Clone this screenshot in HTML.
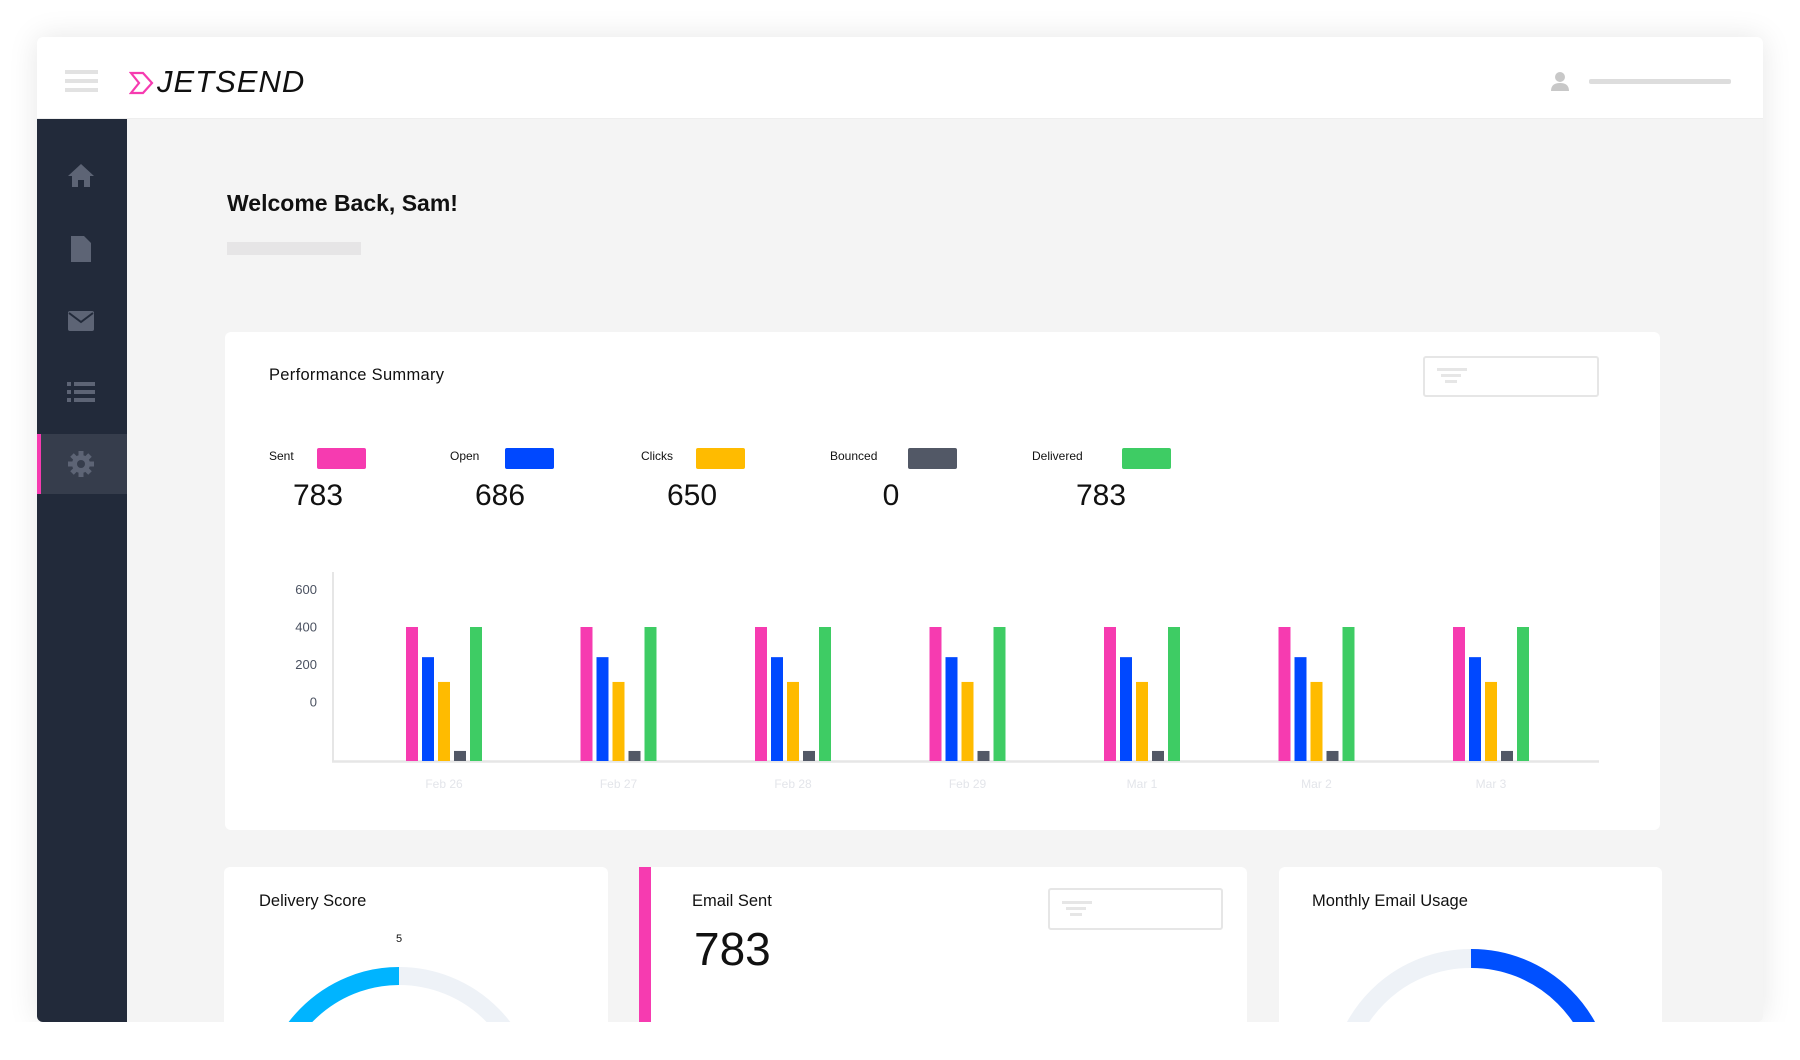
<!DOCTYPE html>
<html><head><meta charset="utf-8"><style>
*{box-sizing:border-box;margin:0;padding:0}
body{width:1800px;height:1060px;background:#fff;font-family:"Liberation Sans",sans-serif;position:relative;overflow:hidden}
.abs{position:absolute}
#frame{left:37px;top:37px;width:1726px;height:985px;background:#f4f4f4;box-shadow:0 0 30px rgba(0,0,0,0.10);border-radius:6px;overflow:hidden}
.card{background:#fff;border-radius:6px}
.t{color:#111;white-space:nowrap}
</style></head><body>
<div id="frame" class="abs">
  <div class="abs" style="left:0;top:0;width:1726px;height:82px;background:#fff;border-bottom:1px solid #eee"></div>
  <div class="abs" style="left:0;top:82px;width:90px;height:903px;background:#222a3a"></div>
</div>
<!-- header -->
<div class="abs" style="left:65px;top:70px;width:33px;height:22px">
  <div class="abs" style="left:0;top:0;width:33px;height:4px;background:#e2e2e2"></div>
  <div class="abs" style="left:0;top:9px;width:33px;height:4px;background:#e2e2e2"></div>
  <div class="abs" style="left:0;top:18px;width:33px;height:4px;background:#e2e2e2"></div>
</div>
<svg class="abs" style="left:129px;top:70px" width="26" height="26"><path d="M2 3 H14 L23 13 L14 23 H2 L10 13 Z" fill="none" stroke="#f63bb0" stroke-width="2.2"/></svg>
<div class="abs t" style="left:157px;top:64px;font-size:31px;font-style:italic;letter-spacing:1px;color:#111">JETSEND</div>
<svg class="abs" style="left:1551px;top:71px" width="18" height="20"><circle cx="9" cy="6" r="5" fill="#c8c8c8"/><path d="M0 20 Q0 12 9 12 Q18 12 18 20Z" fill="#c8c8c8"/></svg>
<div class="abs" style="left:1589px;top:79px;width:142px;height:5px;background:#ddd;border-radius:2px"></div>
<!-- sidebar icons -->
<div class="abs" style="left:37px;top:434px;width:90px;height:60px;background:#363d4c;border-left:4px solid #f63bb0"></div>
<svg class="abs" style="left:67px;top:162px" width="28" height="26"><path d="M14 2 L27 14 H23 V25 H17 V18 H11 V25 H5 V14 H1Z" fill="#5d6475"/></svg>
<svg class="abs" style="left:70px;top:235px" width="22" height="28"><path d="M1 1 H14 L21 8 V27 H1Z" fill="#5d6475"/></svg>
<svg class="abs" style="left:67px;top:310px" width="28" height="22"><rect x="1" y="1" width="26" height="20" rx="2" fill="#5d6475"/><path d="M2 3 L14 12 L26 3" fill="none" stroke="#222a3a" stroke-width="2"/></svg>
<svg class="abs" style="left:67px;top:381px" width="28" height="22"><g fill="#5d6475"><rect x="0" y="1" width="4" height="4"/><rect x="7" y="1" width="21" height="4"/><rect x="0" y="9" width="4" height="4"/><rect x="7" y="9" width="21" height="4"/><rect x="0" y="17" width="4" height="4"/><rect x="7" y="17" width="21" height="4"/></g></svg>
<svg class="abs" style="left:67px;top:450px" width="28" height="28"><g fill="#5d6475"><circle cx="14" cy="14" r="9"/><g stroke="#5d6475" stroke-width="5"><line x1="14" y1="1" x2="14" y2="27"/><line x1="1" y1="14" x2="27" y2="14"/><line x1="5" y1="5" x2="23" y2="23"/><line x1="23" y1="5" x2="5" y2="23"/></g></g><circle cx="14" cy="14" r="4" fill="#363d4c"/></svg>
<!-- welcome -->
<div class="abs t" style="left:227px;top:190px;font-size:23px;font-weight:bold">Welcome Back, Sam!</div>
<div class="abs" style="left:227px;top:242px;width:134px;height:13px;background:#e6e5e6"></div>
<!-- performance card -->
<div class="abs card" style="left:225px;top:332px;width:1435px;height:498px"></div>
<div class="abs t" style="left:269px;top:366px;font-size:16.5px;letter-spacing:0.3px">Performance Summary</div>
<div class="abs" style="left:1423px;top:356px;width:176px;height:41px;border:2px solid #e6e6e6;border-radius:3px">
  <div class="abs" style="left:12px;top:10px;width:30px;height:3px;background:#e6e6e6"></div>
  <div class="abs" style="left:16px;top:16px;width:20px;height:3px;background:#e6e6e6"></div>
  <div class="abs" style="left:20px;top:22px;width:12px;height:3px;background:#e6e6e6"></div>
</div>
<div id="legend"></div>
<svg id="chart" class="abs" style="left:0;top:0" width="1800" height="1060"></svg>
<!-- bottom cards -->
<div class="abs card" style="left:224px;top:867px;width:384px;height:160px"></div>
<div class="abs t" style="left:259px;top:892px;font-size:16.5px">Delivery Score</div>
<div class="abs t" style="left:396px;top:933px;font-size:11px">5</div>
<div class="abs card" style="left:639px;top:867px;width:608px;height:160px;border-left:12px solid #f63bb0;border-radius:0 6px 6px 0"></div>
<div class="abs t" style="left:692px;top:892px;font-size:16.5px">Email Sent</div>
<div class="abs t" style="left:694px;top:922px;font-size:46px">783</div>
<div class="abs" style="left:1048px;top:888px;width:175px;height:42px;border:2px solid #e6e6e6;border-radius:3px">
  <div class="abs" style="left:12px;top:11px;width:30px;height:3px;background:#e6e6e6"></div>
  <div class="abs" style="left:16px;top:17px;width:20px;height:3px;background:#e6e6e6"></div>
  <div class="abs" style="left:20px;top:23px;width:12px;height:3px;background:#e6e6e6"></div>
</div>
<div class="abs card" style="left:1279px;top:867px;width:383px;height:160px"></div>
<div class="abs t" style="left:1312px;top:892px;font-size:16.5px">Monthly Email Usage</div>
<svg class="abs" style="left:0;top:0;pointer-events:none" width="1800" height="1022">
  <path d="M530 1110 A131 131 0 0 0 399 976" fill="none" stroke="#eef2f7" stroke-width="18"/>
  <path d="M268 1110 A131 134 0 0 1 399 976" fill="none" stroke="#00b4ff" stroke-width="18"/>
  <path d="M1339 1090 A131.5 131.5 0 0 1 1471 958.5" fill="none" stroke="#eef2f7" stroke-width="19"/>
  <path d="M1471 958.5 A131.5 131.5 0 0 1 1603 1090" fill="none" stroke="#0050ff" stroke-width="19"/>
</svg>
<div class="abs" style="left:0;top:1022px;width:1800px;height:38px;background:#fff"></div>
<script>
const seriesNames = ["Sent","Open","Clicks","Bounced","Delivered"];
const seriesTotals = ["783","686","650","0","783"];
const seriesColors = ["#f63bb0","#0048ff","#ffbb00","#525866","#3ecc64"];
const categories = ["Feb 26","Feb 27","Feb 28","Feb 29","Mar 1","Mar 2","Mar 3"];
const sentVals = [400,400,400,400,400,400,400];
const openVals = [310,310,310,310,310,310,310];
const clickVals = [236,236,236,236,236,236,236];
const bouncedVals = [30,30,30,30,30,30,30];
const deliveredVals = [400,400,400,400,400,400,400];
const tickLabels = ["600","400","200","0"];

const NS = "http://www.w3.org/2000/svg";
const legX = [269,450,641,830,1032], swX = [317,505,696,908,1122], numX = [318,500,692,891,1101];
const leg = document.getElementById('legend');
seriesNames.forEach((n,i)=>{
  const l = document.createElement('div');
  l.className='abs t';
  l.style.cssText=`left:${legX[i]}px;top:449px;font-size:12px`;
  l.textContent=n;
  
  
  leg.appendChild(l);
  const s = document.createElement('div');
  s.className='abs';
  s.style.cssText=`left:${swX[i]}px;top:448px;width:49px;height:21px;border-radius:2px;background:${seriesColors[i]}`;
  
  
  leg.appendChild(s);
  const v = document.createElement('div');
  v.className='abs t';
  v.style.cssText=`left:${numX[i]-60}px;width:120px;text-align:center;top:479px;font-size:30px`;
  v.textContent=seriesTotals[i];
  
  
  leg.appendChild(v);
});
const svg = document.getElementById('chart');
const baseY = 761, k = 134/400;
const yScale = v => baseY - v*k;
const x0 = 444, period = 174.5, barW = 12, step = 16;
const xScale = (ci, si) => x0 + ci*period + (si-2)*step - barW/2;
function mk(tag, attrs){const e=document.createElementNS(NS,tag);for(const a in attrs)e.setAttribute(a,attrs[a]);svg.appendChild(e);return e;}
let ax = mk('line',{x1:333,y1:572,x2:333,y2:762,stroke:'#e6e6e6','stroke-width':2});


let bx = mk('line',{x1:332,y1:761.5,x2:1599,y2:761.5,stroke:'#e6e6e6','stroke-width':2.5});


tickLabels.forEach((t,i)=>{
  const e = mk('text',{x:317,y:594+i*37.5,'text-anchor':'end','font-size':13,fill:'#4a5160','font-family':'Liberation Sans, sans-serif'});
  e.textContent=t;
  
  
});
const allSeries=[sentVals,openVals,clickVals,bouncedVals,deliveredVals];
categories.forEach((c,ci)=>{
  allSeries.forEach((vals,si)=>{
    const y=yScale(vals[ci]);
    const r=mk('rect',{x:xScale(ci,si),y:y,width:barW,height:baseY-y,fill:seriesColors[si]});
    
    
  });
  const e=mk('text',{x:x0+ci*period,y:788,'text-anchor':'middle','font-size':12,fill:'#e3e5ea','font-family':'Liberation Sans, sans-serif'});
  e.textContent=c;
  
  
});
</script>
</body></html>
